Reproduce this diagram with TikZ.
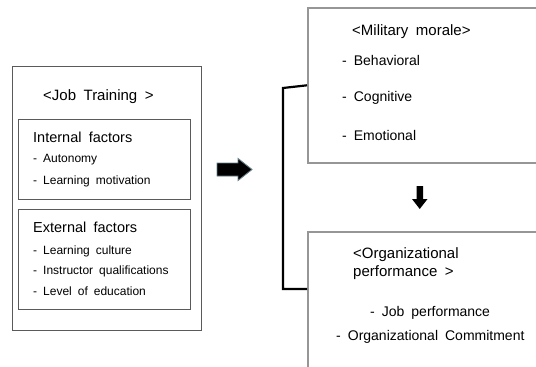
\documentclass[tikz,border=0pt]{standalone}
\usepackage{fontspec}
\setmainfont[WordSpace=1.8]{Liberation Sans}
\usetikzlibrary{positioning}
\definecolor{boxline}{RGB}{90,90,90}
\definecolor{frameline}{RGB}{150,150,150}
\definecolor{arrowrim}{RGB}{100,125,135}
\begin{document}
\begin{tikzpicture}[
        x=1pt, y=-1pt,
        outerbox/.style={draw=boxline, line width=0.9pt},
        innerbox/.style={draw=boxline, line width=0.9pt},
        rbox/.style={draw=frameline, line width=1.6pt, inner sep=0pt, anchor=north west},
        heading/.style={anchor=west, inner sep=0pt, font=\fontsize{15}{18}\selectfont},
        subhead/.style={anchor=west, inner sep=0pt, font=\fontsize{14.5}{17}\selectfont},
        item/.style={anchor=west, inner sep=0pt, font=\fontsize{12}{14}\selectfont},
        ritem/.style={anchor=west, inner sep=0pt, font=\fontsize{14}{16}\selectfont},
        bracket/.style={line width=2.2pt, line join=miter}
    ]
    \useasboundingbox (0,0) rectangle (536,367);
    \clip (0,0) rectangle (536,367);

    \draw[outerbox] (12,66) rectangle (201,330);
    \draw[innerbox] (18,119) rectangle (190,199);
    \draw[innerbox] (18,209) rectangle (190,309);

    \node[heading] (jobtitle) at (43,97) {<Job Training >};
    \node[subhead] (intitle) at (33,137) {Internal factors};
    \node[item] (autonomy) at (33,160) {- Autonomy};
    \node[item] (motivation) at (33,181) {- Learning motivation};
    \node[subhead] (extitle) at (33,227) {External factors};
    \node[item] (culture) at (33,251) {- Learning culture};
    \node[item] (instructor) at (33,271) {- Instructor qualifications};
    \node[item] (education) at (33,291) {- Level of education};

    \draw[fill=black, draw=arrowrim, line width=0.9pt]
        (217,163) -- (238,163) -- (238,158.5) -- (252,169.5)
        -- (238,180.5) -- (238,176) -- (217,176) -- cycle;

    \node[rbox, minimum width=240, minimum height=155] (morale) at (307,7) {};
    \node[rbox, minimum width=240, minimum height=150] (orgperf) at (307,231) {};

    \node[heading] (moraletitle) at (352,32) {<Military morale>};
    \node[ritem] (behavioral) at (342,60) {- Behavioral};
    \node[ritem] (cognitive) at (342,98) {- Cognitive};
    \node[ritem] (emotional) at (342,135) {- Emotional};

    \node[heading, align=left] (orgtitle) at (353,264)
        {<Organizational\\performance >};
    \node[ritem] (jobperf) at (370,313) {- Job performance};
    \node[ritem] (commitment) at (336,337) {- Organizational Commitment};

    \fill (416.5,186) -- (423,186) -- (423,199) -- (427.5,199) -- (419.75,209)
        -- (412,199) -- (416.5,199) -- cycle;

    \coordinate (bend) at (283,88);
    \coordinate (orgjoin) at (307,289);
    \draw[bracket] (morale.west) -- (bend) |- (orgjoin);
\end{tikzpicture}
\end{document}
